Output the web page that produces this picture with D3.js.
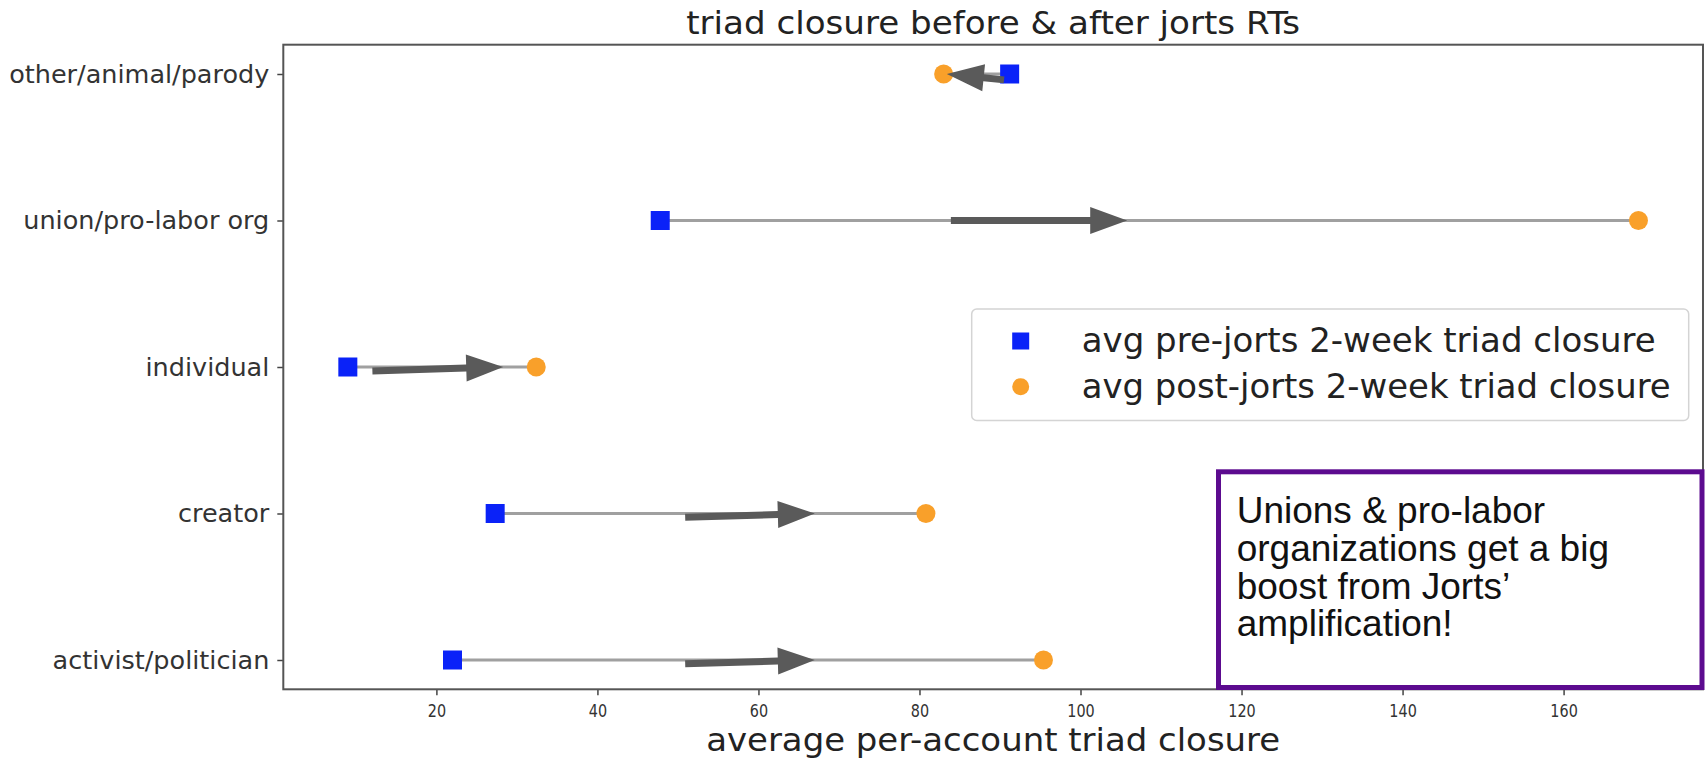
<!DOCTYPE html>
<html>
<head>
<meta charset="utf-8">
<script src="https://cdn.jsdelivr.net/npm/d3@7"></script>
<style>
  html, body { margin: 0; padding: 0; background: #fff; }
  svg { display: block; }
</style>
</head>
<body>
<div id="chart"></div>
<script>
// categories, bottom to top (matplotlib order)
const categories = ['activist/politician', 'creator', 'individual', 'union/pro-labor org', 'other/animal/parody'];
const preValues = [22.0, 27.3, 9.0, 47.8, 91.2];
const postValues = [95.4, 80.8, 32.4, 169.3, 83.0];
// hand-placed arrows (data units): tail x, tip x, tail drop in category units
const arrowFrom = [50.9, 50.9, 12.05, 83.9, 90.5];
const arrowTo = [67.0, 67.0, 28.3, 105.8, 83.4];
const arrowDrop = [0.025, 0.025, 0.027, 0, 0.04];
const xTicks = [20, 40, 60, 80, 100, 120, 140, 160];
const legendLabels = ['avg pre-jorts 2-week triad closure', 'avg post-jorts 2-week triad closure'];
const noteLines = ['Unions & pro-labor', 'organizations get a big', 'boost from Jorts\u2019', 'amplification!'];

const width = 1708, height = 760;
const plotLeft = 283.3, plotRight = 1703, plotTop = 44.7, plotBottom = 689.3;

const blue = '#0a22f8', orange = '#f9a02a';

const svg = d3.select('#chart').append('svg')
    .attr('width', width)
    .attr('height', height);

// matplotlib style 5% margins
const lo = d3.min(preValues.concat(postValues)), hi = d3.max(preValues.concat(postValues));
const pad = (hi - lo) * 0.05;
const x = d3.scaleLinear().domain([lo - pad, hi + pad]).range([plotLeft, plotRight]);
const y = d3.scaleLinear().domain([-0.2, categories.length - 1 + 0.2]).range([plotBottom, plotTop]);

const rows = categories.map((c, i) => ({
    name: c, i,
    pre: preValues[i], post: postValues[i],
    from: arrowFrom[i], to: arrowTo[i], drop: arrowDrop[i]
}));

// x axis
const xAxis = svg.append('g')
    .attr('transform', `translate(0,${plotBottom})`)
    .call(d3.axisBottom(x).tickValues(xTicks).tickSize(6).tickPadding(9));
xAxis.select('.domain').remove();
xAxis.selectAll('line').attr('stroke', '#444').attr('stroke-width', 1.5);
xAxis.selectAll('text')
    .attr('font-family', 'DejaVu Sans')
    .attr('font-size', 18)
    .attr('fill', '#333')
    .attr('transform', 'scale(0.8,1)');

// y axis
const yAxis = svg.append('g')
    .attr('transform', `translate(${plotLeft},0)`)
    .call(d3.axisLeft(y).tickValues(d3.range(categories.length))
        .tickFormat(i => categories[i]).tickSize(6).tickPadding(8));
yAxis.select('.domain').remove();
yAxis.selectAll('line').attr('stroke', '#444').attr('stroke-width', 1.5);
yAxis.selectAll('text')
    .attr('font-family', 'DejaVu Sans')
    .attr('font-size', 25.5)
    .attr('fill', '#333');

// frame
svg.append('rect')
    .attr('x', plotLeft).attr('y', plotTop)
    .attr('width', plotRight - plotLeft).attr('height', plotBottom - plotTop)
    .attr('fill', 'none')
    .attr('stroke', '#555')
    .attr('stroke-width', 2);

// connecting lines
svg.append('g').selectAll('line')
    .data(rows)
    .enter().append('line')
    .attr('x1', d => x(d.pre)).attr('x2', d => x(d.post))
    .attr('y1', d => y(d.i)).attr('y2', d => y(d.i))
    .attr('stroke', '#a0a0a0')
    .attr('stroke-width', 3);

// pre markers
const sq = 19;
svg.append('g').selectAll('rect')
    .data(rows)
    .enter().append('rect')
    .attr('x', d => x(d.pre) - sq / 2)
    .attr('y', d => y(d.i) - sq / 2)
    .attr('width', sq).attr('height', sq)
    .attr('fill', blue);

// post markers
svg.append('g').selectAll('circle')
    .data(rows)
    .enter().append('circle')
    .attr('cx', d => x(d.post))
    .attr('cy', d => y(d.i))
    .attr('r', 9.5)
    .attr('fill', orange);

// arrows (FancyArrow-like polygon)
function arrowPath(x0, y0, x1, y1) {
    const w = 7, hw = 27, hl = 37;
    const len = Math.hypot(x1 - x0, y1 - y0);
    const ux = (x1 - x0) / len, uy = (y1 - y0) / len;
    const nx = -uy, ny = ux;
    const bx = x1 - ux * hl, by = y1 - uy * hl;
    const pts = [
        [x0 + nx * w / 2, y0 + ny * w / 2],
        [bx + nx * w / 2, by + ny * w / 2],
        [bx + nx * hw / 2, by + ny * hw / 2],
        [x1, y1],
        [bx - nx * hw / 2, by - ny * hw / 2],
        [bx - nx * w / 2, by - ny * w / 2],
        [x0 - nx * w / 2, y0 - ny * w / 2]
    ];
    return 'M' + pts.map(p => p.join(',')).join('L') + 'Z';
}

svg.append('g').selectAll('path')
    .data(rows)
    .enter().append('path')
    .attr('d', d => arrowPath(x(d.from), y(d.i - d.drop), x(d.to), y(d.i)))
    .attr('fill', '#5a5a5a');

// title and x label
svg.append('text')
    .attr('x', (plotLeft + plotRight) / 2).attr('y', 34)
    .attr('text-anchor', 'middle')
    .attr('font-family', 'DejaVu Sans')
    .attr('font-size', 32)
    .attr('fill', '#222')
    .attr('textLength', 614)
    .attr('lengthAdjust', 'spacingAndGlyphs')
    .text('triad closure before & after jorts RTs');

svg.append('text')
    .attr('x', (plotLeft + plotRight) / 2).attr('y', 751)
    .attr('text-anchor', 'middle')
    .attr('font-family', 'DejaVu Sans')
    .attr('font-size', 32)
    .attr('fill', '#222')
    .attr('textLength', 574)
    .attr('lengthAdjust', 'spacingAndGlyphs')
    .text('average per-account triad closure');

// legend
const legend = svg.append('g');
legend.append('rect')
    .attr('x', 971.7).attr('y', 309)
    .attr('width', 717).attr('height', 111.5)
    .attr('rx', 5)
    .attr('fill', '#fff')
    .attr('fill-opacity', 0.8)
    .attr('stroke', '#d4d4d4')
    .attr('stroke-width', 1.5);
legend.append('rect')
    .attr('x', 1020.7 - 8.5).attr('y', 341 - 8.5)
    .attr('width', 17).attr('height', 17)
    .attr('fill', blue);
legend.append('circle')
    .attr('cx', 1020.7).attr('cy', 386.7)
    .attr('r', 8.5)
    .attr('fill', orange);
legend.selectAll('text.lg')
    .data(legendLabels)
    .enter().append('text')
    .attr('class', 'lg')
    .attr('x', 1081.7)
    .attr('y', (d, i) => [341, 386.7][i] + 11)
    .attr('font-family', 'DejaVu Sans')
    .attr('font-size', 33)
    .attr('fill', '#222')
    .attr('textLength', (d, i) => [574, 589][i])
    .attr('lengthAdjust', 'spacingAndGlyphs')
    .text(d => d);

// annotation box
const note = svg.append('g');
note.append('rect')
    .attr('x', 1218.5).attr('y', 471.8)
    .attr('width', 483.5).attr('height', 215.7)
    .attr('fill', '#fff')
    .attr('stroke', '#5c0b8f')
    .attr('stroke-width', 5);
note.selectAll('text')
    .data(noteLines)
    .enter().append('text')
    .attr('x', 1236.7)
    .attr('y', (d, i) => 523.3 + i * 37.6)
    .attr('font-family', 'Liberation Sans, Arial, sans-serif')
    .attr('font-size', 37)
    .attr('fill', '#111')
    .text(d => d);
</script>
</body>
</html>
